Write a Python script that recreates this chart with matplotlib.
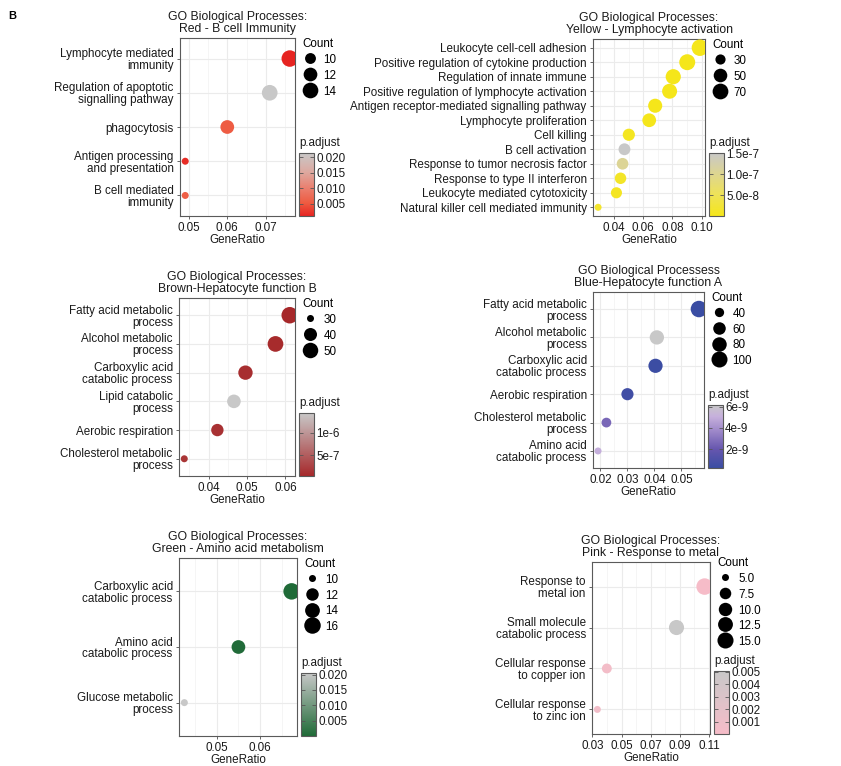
import numpy as np
import matplotlib
matplotlib.use("Agg")
import matplotlib.pyplot as plt
from matplotlib.colors import LinearSegmentedColormap, Normalize
from matplotlib.lines import Line2D
from matplotlib.ticker import AutoMinorLocator, FixedLocator

plt.rcParams['font.family'] = ['Liberation Sans', 'DejaVu Sans']

# === DATA ===
red_terms = ["Lymphocyte mediated\nimmunity", "Regulation of apoptotic\nsignalling pathway",
             "phagocytosis", "Antigen processing\nand presentation", "B cell mediated\nimmunity"]
red_ratio = [0.0762, 0.0710, 0.0600, 0.0491, 0.0491]
red_count = [15, 14, 12, 9, 9]
red_padj = [0.0011, 0.0213, 0.0055, 0.0018, 0.0056]

yellow_terms = ["Leukocyte cell-cell adhesion", "Positive regulation of cytokine production",
                "Regulation of innate immune", "Positive regulation of lymphocyte activation",
                "Antigen receptor-mediated signalling pathway", "Lymphocyte proliferation",
                "Cell killing", "B cell activation", "Response to tumor necrosis factor",
                "Response to type II interferon", "Leukocyte mediated cytotoxicity",
                "Natural killer cell mediated immunity"]
yellow_ratio = [0.0989, 0.0902, 0.0806, 0.0781, 0.0682, 0.0641,
                0.0501, 0.0471, 0.0458, 0.0444, 0.0416, 0.0290]
yellow_count = [78, 72, 64, 62, 54, 51, 40, 38, 37, 36, 34, 24]
yellow_padj = [2e-13, 5e-12, 3e-11, 1e-11, 4e-10, 2e-9,
               6e-9, 1.51e-7, 1.05e-7, 1.2e-8, 8e-9, 1.6e-8]

brown_terms = ["Fatty acid metabolic\nprocess", "Alcohol metabolic\nprocess",
               "Carboxylic acid\ncatabolic process", "Lipid catabolic\nprocess",
               "Aerobic respiration", "Cholesterol metabolic\nprocess"]
brown_ratio = [0.0611, 0.0574, 0.0496, 0.0466, 0.0423, 0.0337]
brown_count = [55, 51, 45, 42, 38, 30]
brown_padj = [3.6e-8, 6e-8, 9e-8, 1.435e-6, 1.2e-7, 1.5e-7]

blue_terms = ["Fatty acid metabolic\nprocess", "Alcohol metabolic\nprocess",
              "Carboxylic acid\ncatabolic process", "Aerobic respiration",
              "Cholesterol metabolic\nprocess", "Amino acid\ncatabolic process"]
blue_ratio = [0.0565, 0.0409, 0.0404, 0.0300, 0.0222, 0.0191]
blue_count = [107, 78, 77, 57, 42, 36]
blue_padj = [2.2e-10, 6.15e-9, 3e-10, 5e-10, 2.6e-9, 5.0e-9]

green_terms = ["Carboxylic acid\ncatabolic process", "Amino acid\ncatabolic process",
               "Glucose metabolic\nprocess"]
green_ratio = [0.0673, 0.0550, 0.0425]
green_count = [16, 13, 10]
green_padj = [1e-5, 3e-4, 0.0205]

pink_terms = ["Response to\nmetal ion", "Small molecule\ncatabolic process",
              "Cellular response\nto copper ion", "Cellular response\nto zinc ion"]
pink_ratio = [0.1070, 0.0877, 0.0399, 0.0334]
pink_count = [16, 13, 6, 5]
pink_padj = [3e-5, 0.00508, 0.0004, 0.0006]

titles = ["GO Biological Processes:\nRed - B cell Immunity",
          "GO Biological Processes:\nYellow - Lymphocyte activation",
          "GO Biological Processes:\nBrown-Hepatocyte function B",
          "GO Biological Processess\nBlue-Hepatocyte function A",
          "GO Biological Processes:\nGreen - Amino acid metabolism",
          "GO Biological Processes:\nPink - Response to metal"]

x_ticks = [[0.05, 0.06, 0.07], [0.04, 0.06, 0.08, 0.10], [0.04, 0.05, 0.06],
           [0.02, 0.03, 0.04, 0.05], [0.05, 0.06], [0.03, 0.05, 0.07, 0.09, 0.11]]
count_breaks = [[10, 12, 14], [30, 50, 70], [30, 40, 50], [40, 60, 80, 100],
                [10, 12, 14, 16], [5.0, 7.5, 10.0, 12.5, 15.0]]
count_labels = [["10", "12", "14"], ["30", "50", "70"], ["30", "40", "50"],
                ["40", "60", "80", "100"], ["10", "12", "14", "16"],
                ["5.0", "7.5", "10.0", "12.5", "15.0"]]
padj_ticks = [[0.005, 0.010, 0.015, 0.020], [5e-8, 1e-7, 1.5e-7], [5e-7, 1e-6],
              [2e-9, 4e-9, 6e-9], [0.005, 0.010, 0.015, 0.020],
              [0.001, 0.002, 0.003, 0.004, 0.005]]
padj_labels = [["0.005", "0.010", "0.015", "0.020"], ["5.0e-8", "1.0e-7", "1.5e-7"],
               ["5e-7", "1e-6"], ["2e-9", "4e-9", "6e-9"],
               ["0.005", "0.010", "0.015", "0.020"],
               ["0.001", "0.002", "0.003", "0.004", "0.005"]]

# === STYLE / LAYOUT ===
W, H, DPI = 841, 766, 100
GREY = "#C8C8C8"
cmaps = [
    LinearSegmentedColormap.from_list("red", [(0, "#E62421"), (0.2, "#EE5A40"), (0.45, "#EA8070"),
                                              (0.7, "#DDA9A0"), (1, GREY)]),
    LinearSegmentedColormap.from_list("yellow", [(0, "#F5E61A"), (0.35, "#EEE25A"),
                                                 (0.68, "#DDD592"), (1, GREY)]),
    LinearSegmentedColormap.from_list("brown", ["#A6282A", GREY]),
    LinearSegmentedColormap.from_list("blue", [(0, "#3A4DA3"), (0.3, "#6656AE"), (0.6, "#A08ACA"),
                                               (0.82, "#C6B0DC"), (1, GREY)]),
    LinearSegmentedColormap.from_list("green", ["#1F6A37", GREY]),
    LinearSegmentedColormap.from_list("pink", ["#F6BCC8", GREY]),
]
# axes boxes in pixels: left, top, right, bottom
boxes = [(180, 38, 295, 216), (593, 39, 705, 216), (179, 298, 295, 476),
         (593, 292, 704, 468), (179, 558, 297, 736), (592, 562, 710, 734)]
legend_raise = [0, 0, 0, 0, 0, 5]  # px the Count legend sits above the panel top
DOT_MIN, DOT_MAX = 7.0, 16.5  # dot diameters in px
FS = 8.4
TXT = "#1a1a1a"


def px_rect(l, t, r, b):
    return [l / W, 1 - b / H, (r - l) / W, (b - t) / H]


def dot_px(counts, c):
    lo, hi = min(counts), max(counts)
    t = np.clip((np.asarray(c, float) - lo) / (hi - lo), 0, None)
    return DOT_MIN + (DOT_MAX - DOT_MIN) * np.sqrt(t)


data = [(red_terms, red_ratio, red_count, red_padj),
        (yellow_terms, yellow_ratio, yellow_count, yellow_padj),
        (brown_terms, brown_ratio, brown_count, brown_padj),
        (blue_terms, blue_ratio, blue_count, blue_padj),
        (green_terms, green_ratio, green_count, green_padj),
        (pink_terms, pink_ratio, pink_count, pink_padj)]

fig = plt.figure(figsize=(W / DPI, H / DPI), dpi=DPI)
fig.text(12 / W, 1 - 16 / H, "B", fontsize=8, fontweight="bold", ha="center", va="center")

for i, (terms, ratio, count, padj) in enumerate(data):
    l, t, r, b = boxes[i]
    ax = fig.add_axes(px_rect(l, t, r, b))
    n = len(terms)
    ypos = np.arange(n)[::-1]
    norm = Normalize(vmin=min(padj), vmax=max(padj))
    sizes = (dot_px(count, count) * 72 / DPI) ** 2
    sc = ax.scatter(ratio, ypos, s=sizes, c=padj, cmap=cmaps[i], norm=norm,
                    linewidths=0, zorder=3)
    ax.margins(x=0.05)
    ax.set_ylim(-0.6, n - 0.4)
    ax.set_yticks(ypos)
    ax.set_yticklabels(terms, linespacing=1.0)
    ax.xaxis.set_major_locator(FixedLocator(x_ticks[i]))
    ax.set_xticklabels(["%.2f" % v for v in x_ticks[i]])
    ax.xaxis.set_minor_locator(AutoMinorLocator(2))
    ax.grid(True, which="major", color="#EBEBEB", lw=0.8, zorder=0)
    ax.grid(True, which="minor", axis="x", color="#F2F2F2", lw=0.5, zorder=0)
    ax.set_axisbelow(True)
    ax.tick_params(which="major", length=2.5, width=0.6, color="#4d4d4d",
                   labelsize=FS, labelcolor=TXT, pad=2)
    ax.tick_params(axis="x", which="major", pad=1.5)
    ax.tick_params(which="minor", length=0)
    for sp in ax.spines.values():
        sp.set_color("#5a5a5a")
        sp.set_linewidth(0.8)
    ax.set_xlabel("GeneRatio", fontsize=FS, color=TXT, labelpad=0.5)
    ax.set_title(titles[i], fontsize=8.8, color=TXT, pad=4, linespacing=1.0)

    # size legend
    handles = [Line2D([], [], marker="o", linestyle="", color="black", markeredgewidth=0,
                      markersize=d * 72 / DPI) for d in dot_px(count, count_breaks[i])]
    aw, ah = r - l, b - t
    ax.legend(handles, count_labels[i], title="Count", loc="upper left",
              bbox_to_anchor=(1 + 7 / aw, 1 + legend_raise[i] / ah), borderaxespad=0,
              borderpad=0, frameon=False, fontsize=FS, title_fontsize=FS,
              handlelength=1.4, handletextpad=0.45, handleheight=1.2,
              labelspacing=0.25, alignment="left")

    # colour bar
    cax = fig.add_axes(px_rect(r + 4, b - 63, r + 19, b))
    cb = fig.colorbar(sc, cax=cax)
    cb.set_ticks(padj_ticks[i])
    cb.set_ticklabels(padj_labels[i])
    cb.outline.set_edgecolor("#5a5a5a")
    cb.outline.set_linewidth(0.8)
    cax.tick_params(direction="in", length=3, width=0.6, color="#555555",
                    left=True, right=True, labelsize=FS, labelcolor=TXT, pad=1.5)
    cax.set_title("p.adjust", loc="left", fontsize=FS, color=TXT, pad=5)

fig.savefig("out.png", dpi=DPI)
